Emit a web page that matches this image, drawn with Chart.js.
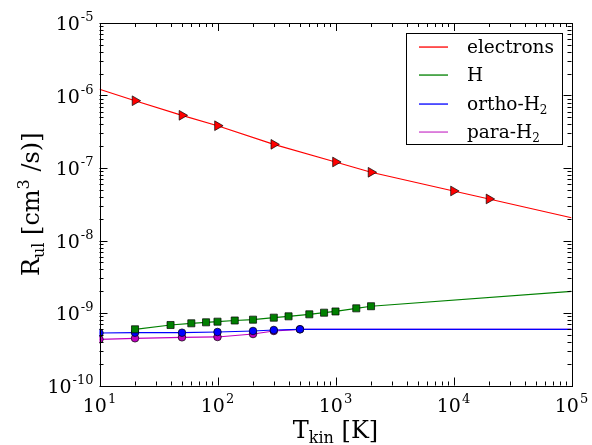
<!DOCTYPE html>
<html>
<head>
<meta charset="utf-8">
<script src="https://cdn.jsdelivr.net/npm/chart.js@4"></script>
<style>
 html, body { margin: 0; padding: 0; background: #fff; }
 canvas { display: block; }
</style>
</head>
<body>
<canvas id="rates" width="592" height="445"></canvas>
<script>
// collision rate coefficients vs kinetic temperature
const tempElectrons = [10, 20, 50, 100, 300, 1000, 2000, 10000, 20000, 100000];
const rateElectrons = [1.22e-6, 8.47e-7, 5.33e-7, 3.83e-7, 2.12e-7, 1.21e-7, 8.73e-8, 4.82e-8, 3.74e-8, 2.06e-8];
const markElectrons = [0, 1, 1, 1, 1, 1, 1, 1, 1, 0];

const tempH = [20, 40, 60, 80, 100, 140, 200, 300, 400, 600, 800, 1000, 1500, 2000, 100000];
const rateH = [5.96e-10, 6.83e-10, 7.21e-10, 7.44e-10, 7.59e-10, 7.88e-10, 8.09e-10, 8.62e-10, 9.0e-10, 9.59e-10, 1.01e-9, 1.05e-9, 1.16e-9, 1.24e-9, 1.99e-9];
const markH = [1, 1, 1, 1, 1, 1, 1, 1, 1, 1, 1, 1, 1, 1, 0];

const tempH2 = [10, 20, 50, 100, 200, 300, 500, 100000];
const rateOrtho = [5.30e-10, 5.35e-10, 5.35e-10, 5.47e-10, 5.65e-10, 5.83e-10, 5.96e-10, 5.96e-10];
const ratePara = [4.34e-10, 4.48e-10, 4.62e-10, 4.67e-10, 5.13e-10, 5.65e-10, 5.96e-10, 5.96e-10];
const markH2 = [1, 1, 1, 1, 1, 1, 1, 0];

const xTicks = [1, 2, 3, 4, 5];
const yTicks = [-10, -9, -8, -7, -6, -5];

const legendLabels = [
 { text: "electrons", sub: "", color: "#ff0000" },
 { text: "H", sub: "", color: "#008000" },
 { text: "ortho-H", sub: "2", color: "#0000ff" },
 { text: "para-H", sub: "2", color: "#cc44cc" },
];

const FONT = '"DejaVu Serif", serif';

function points(xs, ys) {
 return xs.map((x, i) => ({ x, y: ys[i] }));
}

function series(xs, ys, marks, color, style, radius, rotation) {
 return {
  data: points(xs, ys),
  showLine: true,
  borderColor: color,
  borderWidth: 1.2,
  pointStyle: style,
  pointRotation: rotation || 0,
  pointRadius: marks.map((m) => (m ? radius : 0)),
  pointBackgroundColor: color,
  pointBorderColor: "#000",
  pointBorderWidth: 0.7,
  tension: 0,
 };
}

function drawPow(ctx, exp, x, y, align) {
 ctx.font = "19px " + FONT;
 const wBase = ctx.measureText("10").width;
 ctx.font = "13px " + FONT;
 const wExp = ctx.measureText(exp).width;
 const total = wBase + wExp + 1;
 let left = x;
 if (align === "center") left = x - total / 2;
 if (align === "right") left = x - total;
 ctx.textAlign = "left";
 ctx.textBaseline = "alphabetic";
 ctx.font = "19px " + FONT;
 ctx.fillText("10", left, y);
 ctx.font = "13px " + FONT;
 ctx.fillText(exp, left + wBase + 1, y - 9);
}

const frame = {
 id: "frame",
 afterDatasetsDraw(chart) {
  const { ctx, chartArea: a, scales } = chart;
  const sx = scales.x, sy = scales.y;
  ctx.save();
  ctx.strokeStyle = "#000";
  ctx.fillStyle = "#000";
  ctx.lineWidth = 1;

  // minor + major ticks on all four sides
  ctx.beginPath();
  for (let d = 1; d <= 5; d++) {
   for (let m = 1; m <= 9; m++) {
    const v = m * Math.pow(10, d);
    if (v > 1e5) break;
    const px = Math.round(sx.getPixelForValue(v)) + 0.5;
    const len = m === 1 ? 8 : 4;
    ctx.moveTo(px, a.bottom); ctx.lineTo(px, a.bottom - len);
    ctx.moveTo(px, a.top); ctx.lineTo(px, a.top + len);
   }
  }
  for (let d = -10; d <= -5; d++) {
   for (let m = 1; m <= 9; m++) {
    const v = m * Math.pow(10, d);
    if (v > 1.0001e-5) break;
    const py = Math.round(sy.getPixelForValue(v)) + 0.5;
    const len = m === 1 ? 8 : 4;
    ctx.moveTo(a.left, py); ctx.lineTo(a.left + len, py);
    ctx.moveTo(a.right, py); ctx.lineTo(a.right - len, py);
   }
  }
  ctx.stroke();

  ctx.strokeRect(Math.round(a.left) + 0.5, Math.round(a.top) + 0.5,
   Math.round(a.right - a.left), Math.round(a.bottom - a.top));

  // tick labels
  xTicks.forEach((e) => {
   drawPow(ctx, String(e), sx.getPixelForValue(Math.pow(10, e)), a.bottom + 26, "center");
  });
  yTicks.forEach((e) => {
   drawPow(ctx, String(e), a.left - 6, sy.getPixelForValue(Math.pow(10, e)) + 7, "right");
  });

  // axis titles
  ctx.textBaseline = "alphabetic";
  const t1 = "T", t2 = "kin", t3 = " [K]";
  ctx.font = "24px " + FONT;
  const w1 = ctx.measureText(t1).width, w3 = ctx.measureText(t3).width;
  ctx.font = "16px " + FONT;
  const w2 = ctx.measureText(t2).width;
  const lx = (a.left + a.right) / 2 - (w1 + w2 + w3) / 2;
  const ly = 438;
  ctx.textAlign = "left";
  ctx.font = "24px " + FONT; ctx.fillText(t1, lx, ly);
  ctx.font = "16px " + FONT; ctx.fillText(t2, lx + w1, ly + 5);
  ctx.font = "24px " + FONT; ctx.fillText(t3, lx + w1 + w2, ly);

  ctx.save();
  ctx.translate(39, (a.top + a.bottom) / 2);
  ctx.rotate(-Math.PI / 2);
  const parts = [
   { s: "R", f: 24, dy: 0 },
   { s: "ul", f: 16, dy: 5 },
   { s: " [cm", f: 24, dy: 0 },
   { s: "3", f: 16, dy: -10 },
   { s: " /s)]", f: 24, dy: 0 },
  ];
  let tw = 0;
  parts.forEach((p) => { ctx.font = p.f + "px " + FONT; p.w = ctx.measureText(p.s).width; tw += p.w; });
  let px = -tw / 2;
  parts.forEach((p) => { ctx.font = p.f + "px " + FONT; ctx.fillText(p.s, px, p.dy); px += p.w; });
  ctx.restore();

  // legend
  const bx = 406.5, by = 33.5, bw = 156, bh = 111;
  ctx.fillStyle = "#fff";
  ctx.fillRect(bx, by, bw, bh);
  ctx.strokeStyle = "#000";
  ctx.lineWidth = 1;
  ctx.strokeRect(bx, by, bw, bh);
  legendLabels.forEach((item, i) => {
   const y = Math.round(47 + i * 28.3);
   ctx.fillStyle = item.color;
   ctx.fillRect(419, y - 0.6, 29, 1.3);
   ctx.fillStyle = "#000";
   ctx.textBaseline = "middle";
   ctx.font = "18.5px " + FONT;
   ctx.fillText(item.text, 467, y + 1);
   if (item.sub) {
    const w = ctx.measureText(item.text).width;
    ctx.font = "12px " + FONT;
    ctx.fillText(item.sub, 467 + w, y + 7);
   }
  });
  ctx.restore();
 },
};

new Chart(document.getElementById("rates"), {
 type: "scatter",
 data: {
  datasets: [
   series(tempElectrons, rateElectrons, markElectrons, "#ff0000", "triangle", 5.6, 90),
   series(tempH, rateH, markH, "#008000", "rect", 5),
   series(tempH2, rateOrtho, markH2, "#0000ff", "circle", 3.8),
   series(tempH2, ratePara, markH2, "#c000c0", "circle", 3.8),
  ],
 },
 options: {
  responsive: false,
  animation: false,
  events: [],
  layout: { padding: { left: 99.5, top: 23, right: 20.5, bottom: 59.5 } },
  plugins: { legend: { display: false }, tooltip: { enabled: false } },
  scales: {
   x: { type: "logarithmic", min: 10, max: 100000, display: false },
   y: { type: "logarithmic", min: 1e-10, max: 1e-5, display: false },
  },
 },
 plugins: [frame],
});
</script>
</body>
</html>
